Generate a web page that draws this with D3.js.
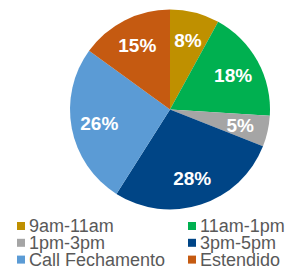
<!DOCTYPE html>
<html>
<head>
<meta charset="utf-8">
<script src="https://cdn.jsdelivr.net/npm/d3@7"></script>
<style>
  body { margin: 0; background: #fff; }
  text { font-family: "Liberation Sans", Arial, sans-serif; }
</style>
</head>
<body>
<div id="chart"></div>
<script>
var width = 289, height = 271;

var categories = ['9am-11am', '11am-1pm', '1pm-3pm', '3pm-5pm', 'Call Fechamento', 'Estendido'];
var shares = [8, 18, 5, 28, 26, 15];
var colors = ['#BF9000', '#00B050', '#A5A5A5', '#004586', '#5B9BD5', '#C55A11'];

var cx = 170, cy = 109.5, radius = 100;

const svg = d3.select('#chart')
    .append('svg')
        .attr('width', width)
        .attr('height', height);

const data = categories.map((c, i) => ({name: c, value: shares[i], color: colors[i]}));

const pie = d3.pie()
    .value(d => d.value)
    .sort(null);

const arc = d3.arc()
    .innerRadius(0)
    .outerRadius(radius);

const labelArc = d3.arc()
    .innerRadius(72)
    .outerRadius(72);

const g = svg.append('g')
    .attr('transform', 'translate(' + cx + ',' + cy + ')');

const arcs = pie(data);

g.selectAll('path')
    .data(arcs)
    .enter()
    .append('path')
    .attr('d', arc)
    .style('fill', d => d.data.color);

g.selectAll('text')
    .data(arcs)
    .enter()
    .append('text')
    .attr('transform', d => 'translate(' + labelArc.centroid(d) + ')')
    .attr('text-anchor', 'middle')
    .attr('dy', '0.36em')
    .style('font-size', '19px')
    .style('font-weight', 'bold')
    .style('fill', '#fff')
    .text(d => d.data.value + '%');

// legend, two columns
const legend = svg.append('g');
const item = legend.selectAll('g')
    .data(data)
    .enter()
    .append('g')
    .attr('transform', (d, i) => 'translate(' + (i % 2 ? 188 : 17) + ',' + (222 + Math.floor(i / 2) * 16.8) + ')');

item.append('rect')
    .attr('width', 8)
    .attr('height', 8)
    .style('fill', d => d.color);

item.append('text')
    .attr('x', 12)
    .attr('y', 4)
    .attr('dy', '0.36em')
    .style('font-size', '18px')
    .style('fill', '#595959')
    .text(d => d.name);
</script>
</body>
</html>
